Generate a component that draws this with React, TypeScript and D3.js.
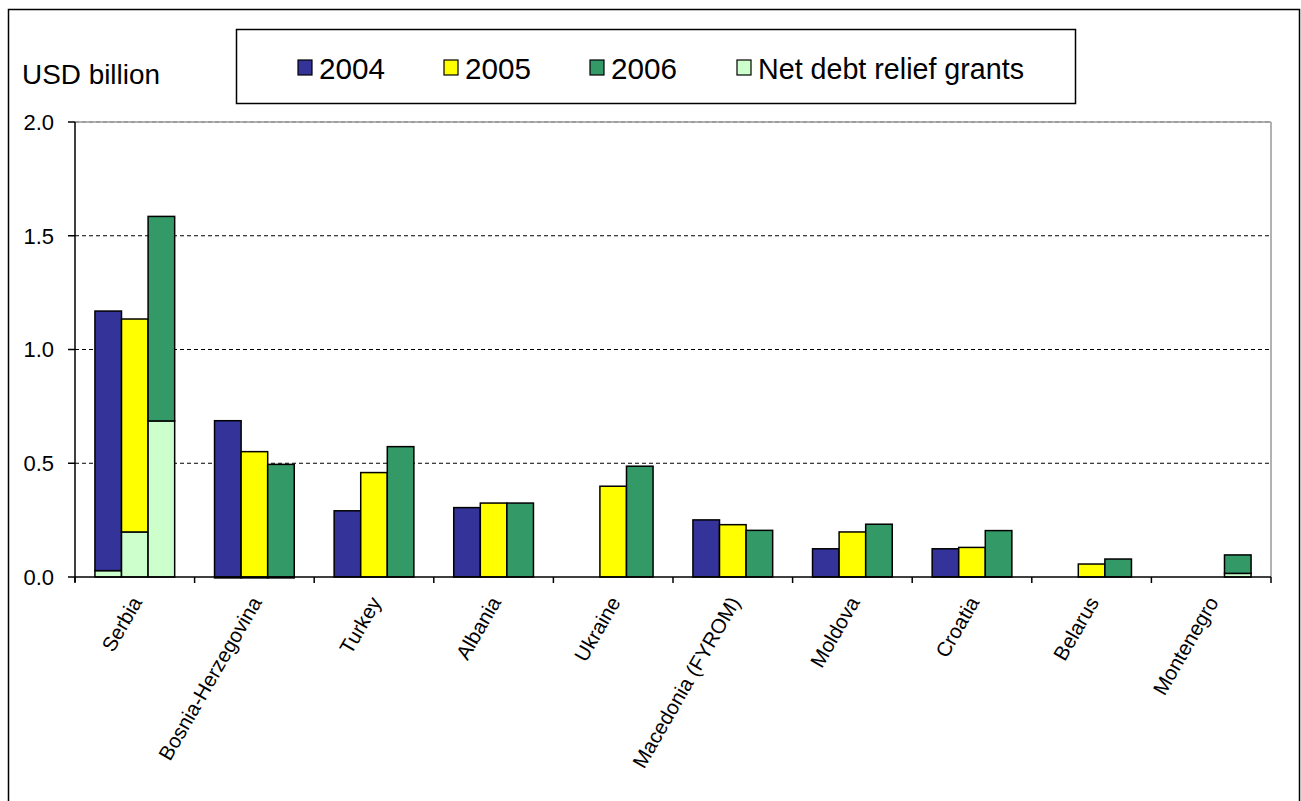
import React from "react";
import * as d3 from "d3";

const categories = [
  "Serbia",
  "Bosnia-Herzegovina",
  "Turkey",
  "Albania",
  "Ukraine",
  "Macedonia (FYROM)",
  "Moldova",
  "Croatia",
  "Belarus",
  "Montenegro",
];
const years = ["2004", "2005", "2006"];
// flows excluding net debt relief grants (USD billion)
const flows2004 = [1.141, 0.687, 0.291, 0.305, 0, 0.251, 0.124, 0.124, 0, 0];
const flows2005 = [0.936, 0.551, 0.459, 0.325, 0.399, 0.23, 0.198, 0.13, 0.057, 0];
const flows2006 = [0.899, 0.495, 0.573, 0.325, 0.487, 0.205, 0.232, 0.204, 0.079, 0.081];
// net debt relief grants (USD billion)
const relief2004 = [0.028, -0.004, 0, 0, 0, 0, 0, 0, 0, 0];
const relief2005 = [0.198, -0.004, 0, 0, 0, 0, 0, 0, 0, 0];
const relief2006 = [0.686, -0.004, 0, 0, 0, 0, 0, 0, 0, 0.016];
const yTicks = [0, 0.5, 1.0, 1.5, 2.0];
const legendLabels = ["2004", "2005", "2006", "Net debt relief grants"];

const yearColors = ["#333399", "#FFFF00", "#339966"];
const reliefColor = "#CCFFCC";

const flowsByYear = [flows2004, flows2005, flows2006];
const reliefByYear = [relief2004, relief2005, relief2006];

export default function App() {
  const W = 1301;
  const H = 801;
  const left = 75;
  const right = 1271;
  const top = 122;
  const bottom = 577;

  const x = d3.scaleBand<string>().domain(categories).range([left, right]).padding(0);
  const xi = d3
    .scaleBand<string>()
    .domain(years)
    .range([0, x.step()])
    .paddingInner(0)
    .paddingOuter(0.75);
  const y = d3.scaleLinear().domain([0, 2]).range([bottom, top]);

  const font = "Arial, 'Liberation Sans', sans-serif";

  const bars: React.ReactNode[] = [];
  categories.forEach((c, ci) => {
    years.forEach((yr, yi) => {
      const bx = (x(c) as number) + (xi(yr) as number);
      const bw = xi.bandwidth();
      const rel = reliefByYear[yi][ci];
      const fl = flowsByYear[yi][ci];
      let base = 0;
      if (rel > 0) {
        bars.push(
          <rect key={`r-${ci}-${yi}`} x={bx} y={y(rel)} width={bw} height={y(0) - y(rel)}
            fill={reliefColor} stroke="#000" strokeWidth={1.5} />
        );
        base = rel;
      } else if (rel < 0) {
        bars.push(
          <rect key={`r-${ci}-${yi}`} x={bx} y={y(0)} width={bw} height={y(rel) - y(0)}
            fill={reliefColor} stroke="#000" strokeWidth={1.5} />
        );
      }
      if (fl > 0) {
        bars.push(
          <rect key={`f-${ci}-${yi}`} x={bx} y={y(base + fl)} width={bw}
            height={y(base) - y(base + fl)} fill={yearColors[yi]} stroke="#000" strokeWidth={1.5} />
        );
      }
    });
  });

  const legendX = [298, 444, 590, 737];
  const legendTextLen = [66, 66, 66, 266];

  return (
    <svg width={W} height={H} style={{ position: "absolute", left: 0, top: 0, background: "#fff" }}
      fontFamily={font}>
      <rect x={0} y={0} width={W} height={H} fill="#fff" />
      {/* outer frame */}
      <rect x={8.5} y={9.5} width={1291} height={800} fill="none" stroke="#000" strokeWidth={1.5} />

      {/* plot border top/right grey */}
      <line x1={left} x2={right} y1={top} y2={top} stroke="#999" strokeWidth={1.5} />
      <line x1={right} x2={right} y1={top} y2={bottom} stroke="#999" strokeWidth={1.5} />

      {/* gridlines */}
      {yTicks.filter((t) => t > 0).map((t) => (
        <line key={`g${t}`} x1={left} x2={right} y1={y(t)} y2={y(t)}
          stroke={t === 2 ? "#888" : "#000"} strokeWidth={1} strokeDasharray="4,3" />
      ))}

      {bars}

      {/* y axis */}
      <line x1={left} x2={left} y1={top} y2={bottom + 5} stroke="#000" strokeWidth={1.5} />
      {yTicks.map((t) => (
        <g key={`yt${t}`}>
          <line x1={left - 7} x2={left} y1={y(t)} y2={y(t)} stroke="#000" strokeWidth={1.5} />
          <text x={54} y={y(t)} dy="0.36em" textAnchor="end" fontSize={22} fill="#000">
            {t.toFixed(1)}
          </text>
        </g>
      ))}

      {/* x axis */}
      <line x1={left} x2={right} y1={bottom} y2={bottom} stroke="#000" strokeWidth={1.5} />
      {categories.map((c) => (
        <line key={`xt-${c}`} x1={x(c) as number} x2={x(c) as number} y1={bottom} y2={bottom + 6}
          stroke="#000" strokeWidth={1.5} />
      ))}
      <line x1={right} x2={right} y1={bottom} y2={bottom + 6} stroke="#000" strokeWidth={1.5} />
      {categories.map((c) => {
        const cx = (x(c) as number) + x.bandwidth() / 2 + 8;
        const cy = 602;
        return (
          <text key={`xl-${c}`} x={cx} y={cy} textAnchor="end" fontSize={20.5} fill="#000"
            transform={`rotate(-60 ${cx} ${cy})`}>
            {c}
          </text>
        );
      })}

      {/* axis title */}
      <text x={22} y={84} fontSize={28} fill="#000" textLength={138} lengthAdjust="spacingAndGlyphs">
        USD billion
      </text>

      {/* legend */}
      <rect x={236.5} y={29.5} width={839} height={74} fill="#fff" stroke="#000" strokeWidth={1.5} />
      {legendLabels.map((l, i) => (
        <g key={`lg${i}`}>
          <rect x={legendX[i]} y={60} width={14} height={15}
            fill={i < 3 ? yearColors[i] : reliefColor} stroke="#000" strokeWidth={1.2} />
          <text x={legendX[i] + 21} y={79} fontSize={30} fill="#000"
            textLength={legendTextLen[i]} lengthAdjust="spacingAndGlyphs">
            {l}
          </text>
        </g>
      ))}
    </svg>
  );
}
